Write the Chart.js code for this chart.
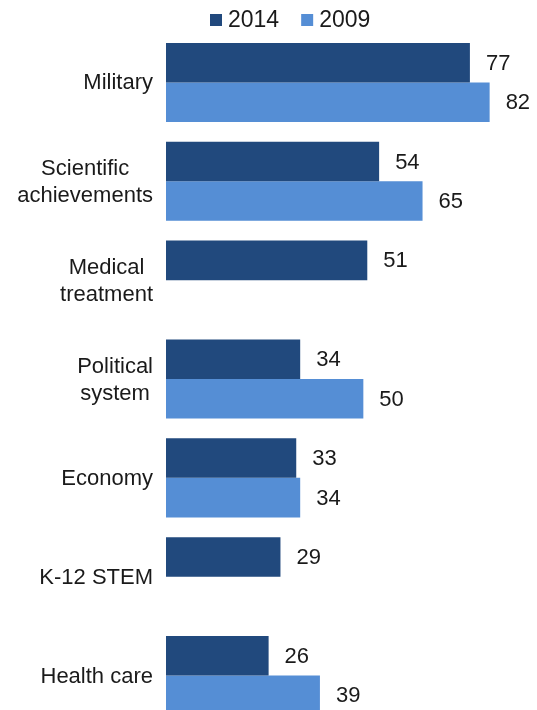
<!DOCTYPE html>
<html>
<head>
<meta charset="utf-8">
<script src="https://cdn.jsdelivr.net/npm/chart.js@4"></script>
<style>
  html, body { margin: 0; padding: 0; background: #fff; overflow: hidden; }
  #wrap { width: 537px; height: 725px; }
</style>
</head>
<body>
<div id="wrap"><canvas id="views-chart" width="537" height="725"></canvas></div>
<script>
const categories = [
    `Military`,
    [`Scientific`, `achievements`],
    [`Medical`, `treatment`],
    [`Political`, `system`],
    `Economy`,
    `K-12 STEM`,
    `Health care`
]
const values_2014 = [77, 54, 51, 34, 33, 29, 26]
const values_2009 = [82, 65, null, 50, 34, null, 39]

const dark_blue = `#21497d`
const light_blue = `#558ed5`
const text_color = `#1a1a1a`
const font_family = `"Liberation Sans", Arial, sans-serif`

// writes each bar's number just past its end
const value_labels = {
    id: `valueLabels`,
    afterDatasetsDraw(chart) {
        const ctx = chart.ctx
        ctx.save()
        ctx.font = `22px ${font_family}`
        ctx.fillStyle = text_color
        ctx.textAlign = `left`
        ctx.textBaseline = `middle`
        chart.data.datasets.forEach((ds, i) => {
            chart.getDatasetMeta(i).data.forEach((bar, j) => {
                const v = ds.data[j]
                if (v === null) return
                ctx.fillText(v, bar.x + 16, bar.y + 1)
            })
        })
        ctx.restore()
    }
}

// category names: block sits against the bars, lines centred inside it
const category_labels = {
    id: `categoryLabels`,
    afterDraw(chart) {
        const ctx = chart.ctx
        const scale = chart.scales.y
        const right = scale.right - 13
        const line_h = 27
        ctx.save()
        ctx.font = `22px ${font_family}`
        ctx.fillStyle = text_color
        ctx.textAlign = `center`
        ctx.textBaseline = `middle`
        chart.data.labels.forEach((label, i) => {
            const lines = Array.isArray(label) ? label : [label]
            const block = Math.max(...lines.map(l => ctx.measureText(l).width))
            const cx = right - block / 2
            const cy = scale.getPixelForValue(i) + 1
            lines.forEach((line, k) => {
                ctx.fillText(line, cx, cy + (k - (lines.length - 1) / 2) * line_h)
            })
        })
        ctx.restore()
    }
}

// square swatch + year, in one row above the bars
const year_legend = {
    id: `yearLegend`,
    afterDraw(chart) {
        const ctx = chart.ctx
        ctx.save()
        ctx.font = `23px ${font_family}`
        ctx.textBaseline = `middle`
        let x = 210
        chart.data.datasets.forEach((ds) => {
            ctx.fillStyle = ds.backgroundColor
            ctx.fillRect(x, 14, 12, 12)
            ctx.fillStyle = text_color
            ctx.fillText(ds.label, x + 18, 21)
            x += 18 + ctx.measureText(ds.label).width + 22
        })
        ctx.restore()
    }
}

const chart_ctx = document.getElementById(`views-chart`).getContext(`2d`)
const chart = new Chart(chart_ctx, {
    type: `bar`,
    data: {
        labels: categories,
        datasets: [{
            label: `2014`,
            data: values_2014,
            backgroundColor: dark_blue
        }, {
            label: `2009`,
            data: values_2009,
            backgroundColor: light_blue
        }]
    },
    options: {
        indexAxis: `y`,
        responsive: false,
        animation: false,
        layout: { padding: { left: 8, right: 0, top: 33, bottom: 0 } },
        datasets: {
            bar: { categoryPercentage: 0.8, barPercentage: 1.0 }
        },
        scales: {
            x: {
                min: 0,
                max: 94,
                display: false
            },
            y: {
                grid: { display: false, drawTicks: false },
                border: { display: false },
                ticks: { display: false },
                afterFit: (scale) => {
                    scale.width = 158
                    scale.paddingTop = 0
                    scale.paddingBottom = 0
                }
            }
        },
        plugins: {
            legend: { display: false },
            tooltip: { enabled: false }
        }
    },
    plugins: [value_labels, category_labels, year_legend]
})
</script>
</body>
</html>
